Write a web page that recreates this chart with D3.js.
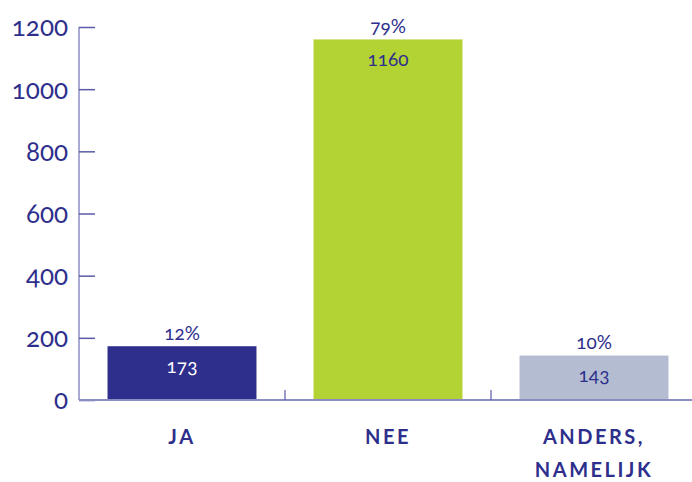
<!DOCTYPE html>
<html>
<head>
<meta charset="utf-8">
<script src="https://cdn.jsdelivr.net/npm/d3@7"></script>
<style>
  body { margin: 0; background: #fff; }
  text { font-family: Lato, "Open Sans", sans-serif; fill: #2e2f8c; font-variant-numeric: oldstyle-nums; }
</style>
</head>
<body>
<script>
const svgWidth = 692;
const svgHeight = 482;

const categories = ['JA', 'NEE', 'ANDERS,\nNAMELIJK'];
const counts = [173, 1160, 143];
const percents = ['12%', '79%', '10%'];
const barColors = ['#2e2e8c', '#b3d334', '#b4bcd1'];
const countColors = ['#ffffff', '#2e2f8c', '#2e2f8c'];
const yTicks = [0, 200, 400, 600, 800, 1000, 1200];

const svg = d3.select('body')
              .append('svg')
              .attr('width', svgWidth)
              .attr('height', svgHeight);

const x = d3.scaleBand()
            .domain(categories)
            .range([79, 697])
            .paddingInner(0.277)
            .paddingOuter(0.1385);

const y = d3.scaleLinear()
            .domain([0, 1200])
            .range([400, 27]);

const axisColor = '#8c8cc4';

// y axis: ticks point inward
const yAxis = svg.append('g')
  .attr('transform', 'translate(79,0)')
  .call(d3.axisRight(y).tickValues(yTicks).tickSize(16).tickFormat(''));
yAxis.select('.domain').attr('stroke', axisColor).attr('stroke-width', 1.5).attr('d', 'M0,27V400');
yAxis.selectAll('.tick line').attr('stroke', '#5a5aa8').attr('stroke-width', 1.5);

svg.selectAll('.ylabel')
  .data(yTicks)
  .enter().append('text')
  .attr('class', 'ylabel')
  .attr('x', 68)
  .attr('y', d => y(d))
  .attr('dy', '0.36em')
  .attr('text-anchor', 'end')
  .style('font-size', '26px')
  .text(d => d);

// bars
svg.selectAll('rect')
  .data(counts)
  .enter().append('rect')
  .attr('x', (d, i) => x(categories[i]))
  .attr('y', d => y(d))
  .attr('width', x.bandwidth())
  .attr('height', d => y(0) - y(d))
  .attr('fill', (d, i) => barColors[i]);

// x axis line + separators
svg.append('line')
  .attr('x1', 79).attr('x2', svgWidth)
  .attr('y1', y(0)).attr('y2', y(0))
  .attr('stroke', axisColor).attr('stroke-width', 2);

const step = x.step();
svg.selectAll('.sep')
  .data(categories.slice(1))
  .enter().append('line')
  .attr('x1', d => x(d) - (step - x.bandwidth()) / 2)
  .attr('x2', d => x(d) - (step - x.bandwidth()) / 2)
  .attr('y1', y(0) - 10).attr('y2', y(0))
  .attr('stroke', '#5a5aa8').attr('stroke-width', 1.2);

// percent labels
svg.selectAll('.pct')
  .data(percents)
  .enter().append('text')
  .attr('class', 'pct')
  .attr('x', (d, i) => x(categories[i]) + x.bandwidth() / 2)
  .attr('y', (d, i) => y(counts[i]) - 13)
  .attr('dy', '0.36em')
  .attr('text-anchor', 'middle')
  .style('font-size', '19px')
  .text(d => d);

// count labels
svg.selectAll('.cnt')
  .data(counts)
  .enter().append('text')
  .attr('class', 'cnt')
  .attr('x', (d, i) => x(categories[i]) + x.bandwidth() / 2)
  .attr('y', d => y(d) + 20)
  .attr('dy', '0.36em')
  .attr('text-anchor', 'middle')
  .style('font-size', '19px')
  .style('fill', (d, i) => countColors[i])
  .text(d => d);

// category labels
const cat = svg.selectAll('.cat')
  .data(categories)
  .enter().append('text')
  .attr('class', 'cat')
  .attr('text-anchor', 'middle')
  .style('font-size', '20px')
  .style('font-weight', 'bold')
  .style('letter-spacing', '2.5px');

cat.selectAll('tspan')
  .data(d => d.split('\n').map(t => ({t, c: d})))
  .enter().append('tspan')
  .attr('x', d => x(d.c) + x.bandwidth() / 2)
  .attr('y', (d, i) => 437 + i * 33)
  .attr('dy', '0.36em')
  .text(d => d.t);
</script>
</body>
</html>
